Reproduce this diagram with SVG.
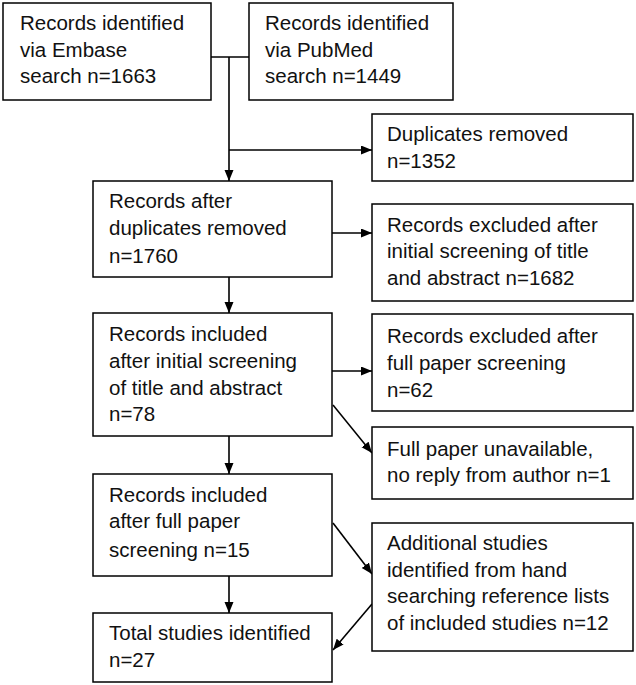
<svg xmlns="http://www.w3.org/2000/svg" width="636" height="685" viewBox="0 0 636 685">
<style>
.box{fill:#fff;stroke:#000;stroke-width:1.5}
text{font-family:"Liberation Sans",Arial,sans-serif;font-size:20.5px;fill:#111}
.c{stroke:#000;stroke-width:1.6;fill:none}
</style>
<defs>
<marker id="ah" markerUnits="userSpaceOnUse" markerWidth="12" markerHeight="10" refX="11" refY="4.5" orient="auto">
<path d="M0,0 L11,4.5 L0,9 z" fill="#000"/>
</marker>
</defs>
<rect width="636" height="685" fill="#fff"/>
<g id="connectors">
<path class="c" d="M211,57 H249"/>
<path class="c" d="M229,57 V181" marker-end="url(#ah)"/>
<path class="c" d="M229,150 H372" marker-end="url(#ah)"/>
<path class="c" d="M332,233 H372" marker-end="url(#ah)"/>
<path class="c" d="M229,277 V313" marker-end="url(#ah)"/>
<path class="c" d="M332,371 H372" marker-end="url(#ah)"/>
<path class="c" d="M333,405 L372,453" marker-end="url(#ah)"/>
<path class="c" d="M229,436 V474" marker-end="url(#ah)"/>
<path class="c" d="M333,523 L372,574" marker-end="url(#ah)"/>
<path class="c" d="M229,576 V613" marker-end="url(#ah)"/>
<path class="c" d="M372,604 L333,650" marker-end="url(#ah)"/>
</g>
<g id="embase">
<rect class="box" x="3" y="3" width="208" height="97"/>
<text x="20" y="30">Records identified</text>
<text x="20" y="57">via Embase</text>
<text x="20" y="83">search n=1663</text>
</g>
<g id="pubmed">
<rect class="box" x="249" y="3" width="204" height="97"/>
<text x="265" y="30">Records identified</text>
<text x="265" y="57">via PubMed</text>
<text x="265" y="83">search n=1449</text>
</g>
<g id="duplicates">
<rect class="box" x="372" y="114" width="261" height="67"/>
<text x="387" y="141">Duplicates removed</text>
<text x="387" y="168">n=1352</text>
</g>
<g id="after-dup">
<rect class="box" x="93" y="181" width="239" height="96"/>
<text x="109" y="208">Records after</text>
<text x="109" y="235">duplicates removed</text>
<text x="109" y="263">n=1760</text>
</g>
<g id="excl-initial">
<rect class="box" x="372" y="204" width="261" height="97"/>
<text x="387" y="232">Records excluded after</text>
<text x="387" y="258">initial screening of title</text>
<text x="387" y="285">and abstract n=1682</text>
</g>
<g id="incl-initial">
<rect class="box" x="93" y="313" width="239" height="123"/>
<text x="109" y="341">Records included</text>
<text x="109" y="368">after initial screening</text>
<text x="109" y="395">of title and abstract</text>
<text x="109" y="421">n=78</text>
</g>
<g id="excl-full">
<rect class="box" x="372" y="314" width="261" height="97"/>
<text x="387" y="343">Records excluded after</text>
<text x="387" y="370">full paper screening</text>
<text x="387" y="397">n=62</text>
</g>
<g id="unavailable">
<rect class="box" x="372" y="427" width="261" height="72"/>
<text x="387" y="456">Full paper unavailable,</text>
<text x="387" y="482">no reply from author n=1</text>
</g>
<g id="incl-full">
<rect class="box" x="93" y="474" width="239" height="102"/>
<text x="109" y="502">Records included</text>
<text x="109" y="528">after full paper</text>
<text x="109" y="557">screening n=15</text>
</g>
<g id="additional">
<rect class="box" x="372" y="523" width="261" height="128"/>
<text x="387" y="550">Additional studies</text>
<text x="387" y="577">identified from hand</text>
<text x="387" y="603">searching reference lists</text>
<text x="387" y="630">of included studies n=12</text>
</g>
<g id="total">
<rect class="box" x="93" y="613" width="239" height="69"/>
<text x="109" y="640">Total studies identified</text>
<text x="109" y="667">n=27</text>
</g>
</svg>
